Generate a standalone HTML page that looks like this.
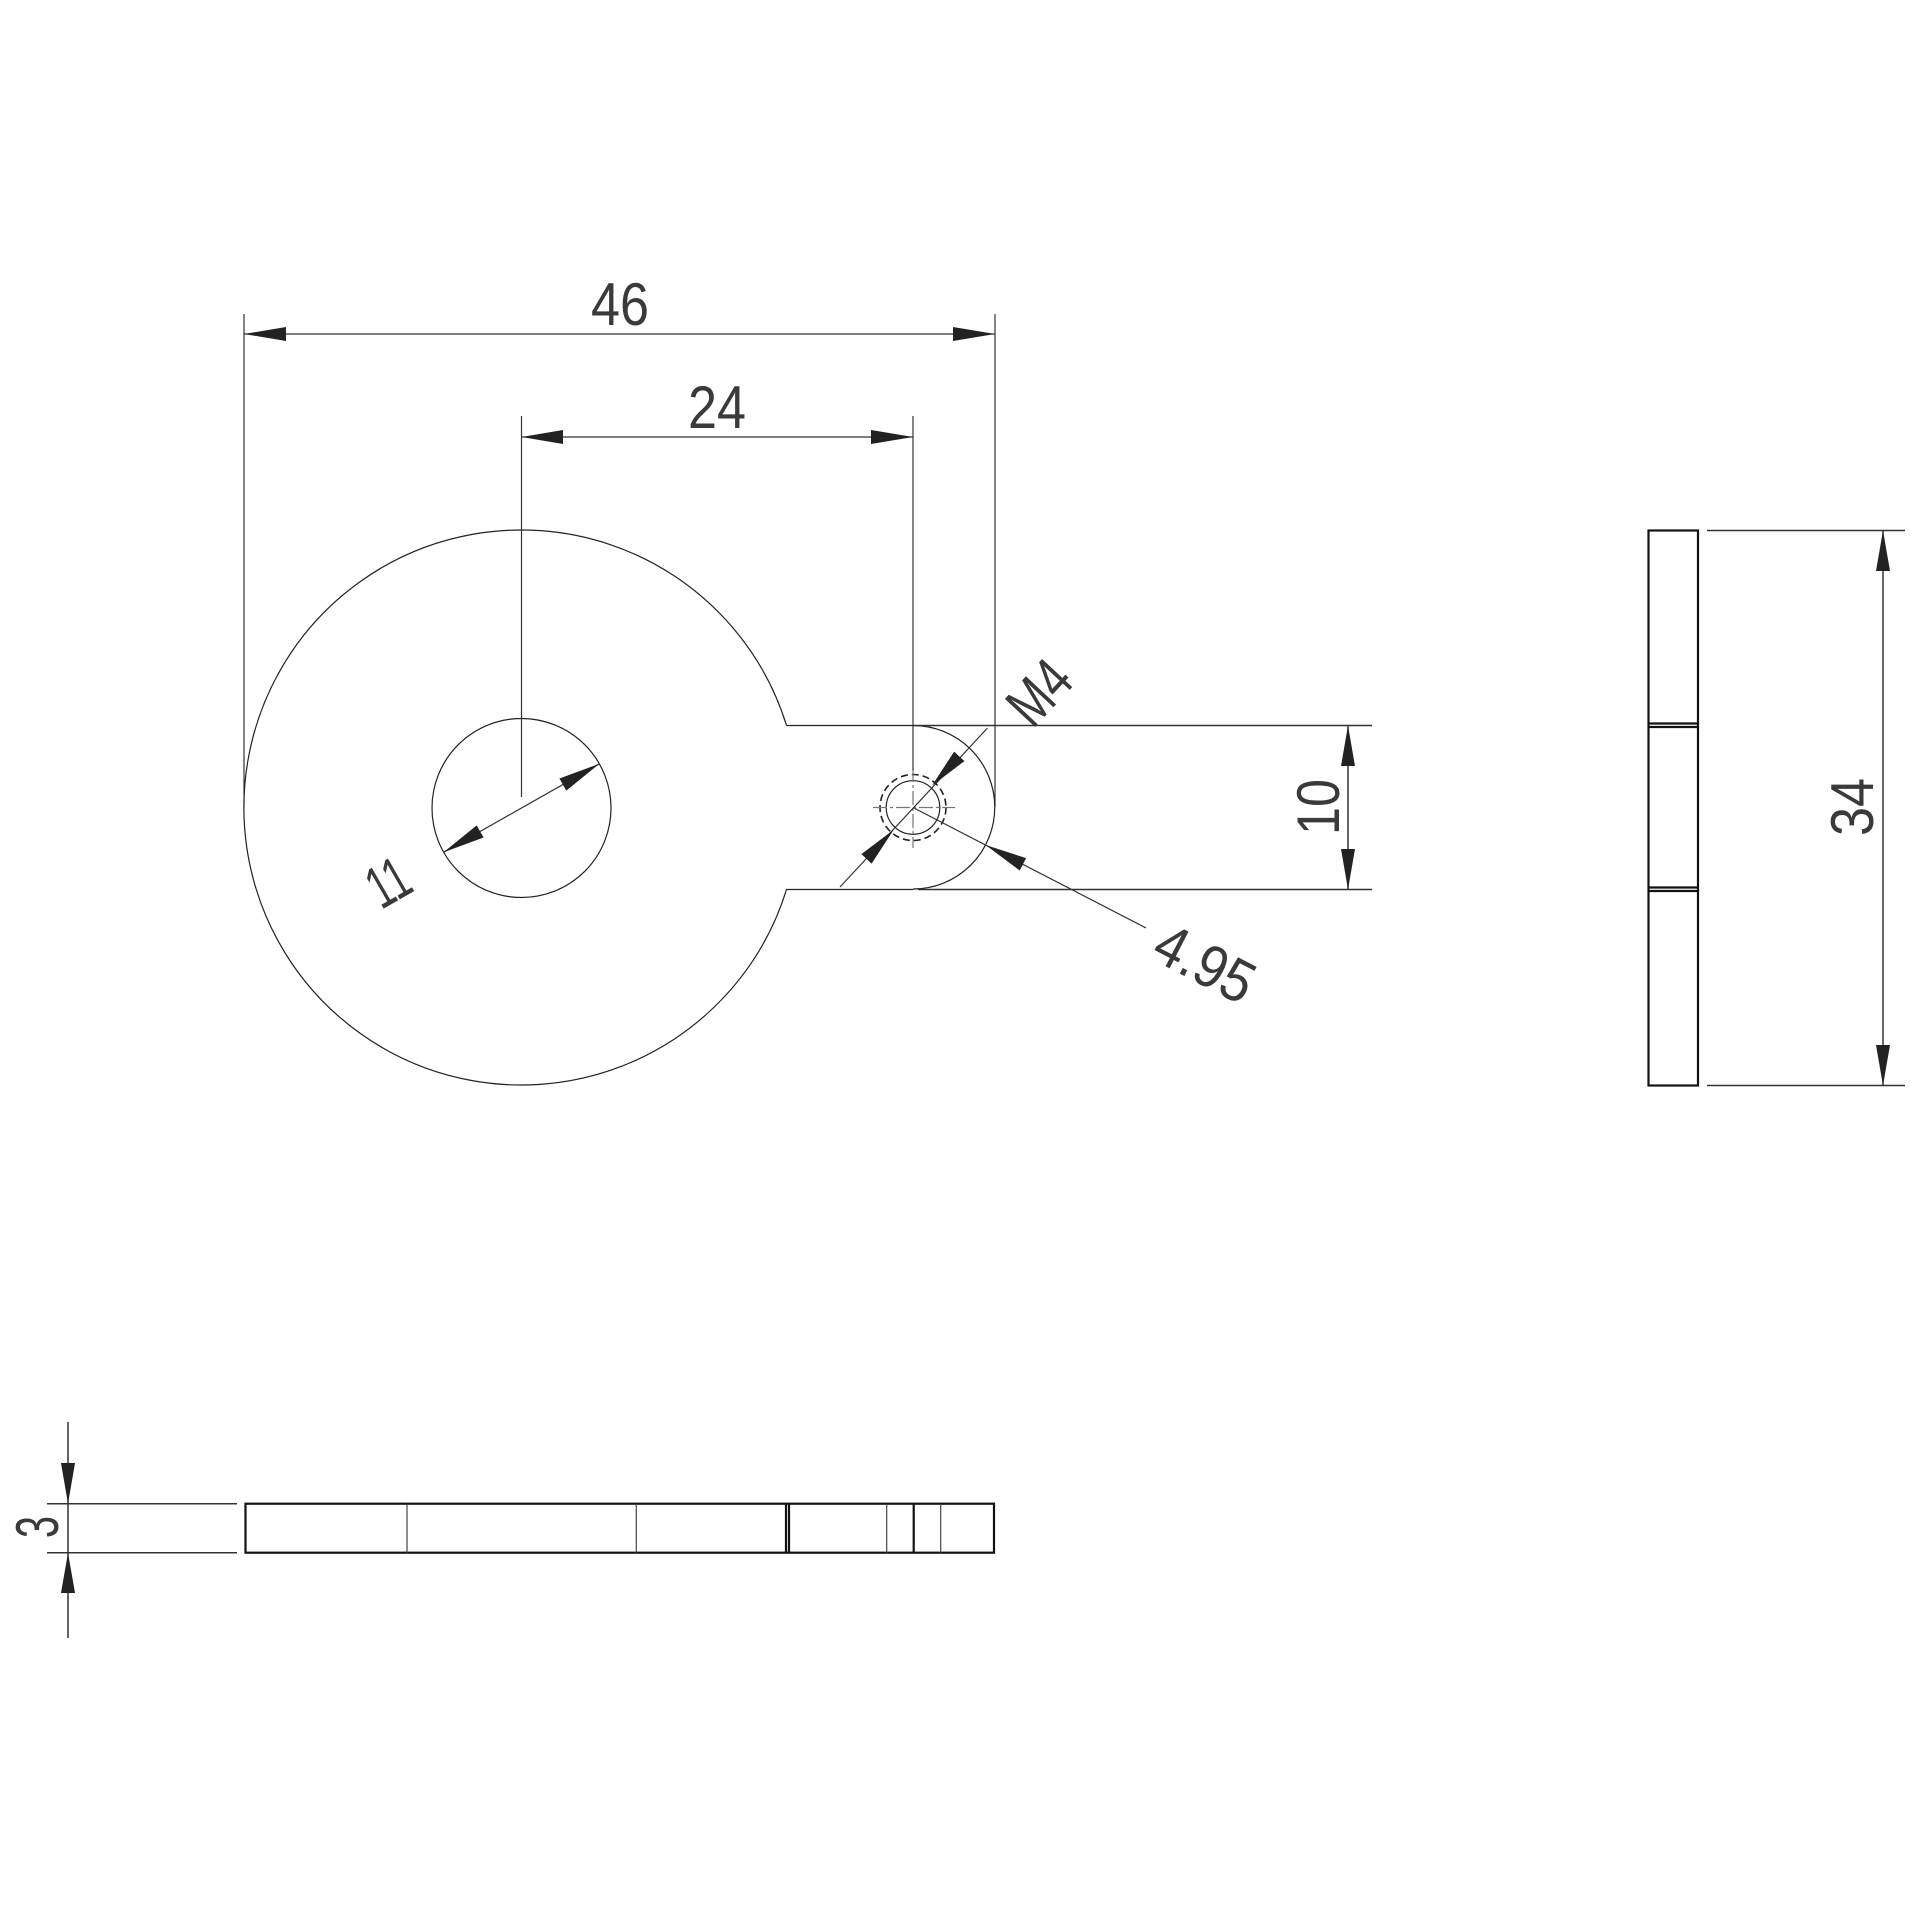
<!DOCTYPE html>
<html><head><meta charset="utf-8"><style>
html,body{margin:0;padding:0;background:#fff}
svg{display:block}
text{font-family:"Liberation Sans",sans-serif;fill:#3a3a3a}
</style></head><body>
<svg width="1920" height="1920" viewBox="0 0 1920 1920" xmlns="http://www.w3.org/2000/svg">
<g fill="none" stroke="#222" stroke-width="1.2">
  <!-- main outline -->
  <path d="M786.5,725.5 A277.5,277.5 0 1 0 786.5,889.5 L913,889.5"/>
  <path d="M786.5,725.5 L913,725.5"/>
  <path d="M913,725.5 A81.6,81.6 0 0 1 913,889"/>
  <circle cx="521.5" cy="808" r="89.5"/>
  <!-- M4 hole -->
  <circle cx="913" cy="807.5" r="26.8"/>
  <circle cx="913" cy="807.5" r="33" stroke-dasharray="7,4" stroke-width="1.6"/>
  <line x1="873" y1="807.5" x2="955" y2="807.5" stroke="#777" stroke-dasharray="14,3,3,3"/>
  <line x1="913" y1="768" x2="913" y2="848" stroke="#777" stroke-dasharray="14,3,3,3"/>
</g>
<g fill="none" stroke="#333" stroke-width="1.2">
  <!-- 46 -->
  <line x1="244" y1="314" x2="244" y2="808"/>
  <line x1="995" y1="314" x2="995" y2="807"/>
  <line x1="244" y1="334" x2="995" y2="334"/>
  <!-- 24 -->
  <line x1="521.5" y1="416" x2="521.5" y2="797"/>
  <line x1="913" y1="416" x2="913" y2="770"/>
  <line x1="521.5" y1="437" x2="913" y2="437"/>
  <!-- 11 -->
  <line x1="443.6" y1="852.2" x2="599.4" y2="763.8"/>
  <!-- 10 -->
  <line x1="913" y1="725.5" x2="1372" y2="725.5" stroke-width="1.5"/>
  <line x1="918" y1="889.5" x2="1372" y2="889.5" stroke-width="1.5"/>
  <line x1="1348" y1="725.5" x2="1348" y2="889.5" stroke-width="1.5"/>
  <!-- M4 leader -->
  <line x1="840" y1="887" x2="987.5" y2="728"/>
  <!-- 4.95 leader -->
  <line x1="913" y1="807.5" x2="1146" y2="928"/>
  <!-- 34 -->
  <line x1="1707" y1="530.5" x2="1905" y2="530.5" stroke-width="1.5"/>
  <line x1="1707" y1="1085.5" x2="1905" y2="1085.5" stroke-width="1.5"/>
  <line x1="1883" y1="530.5" x2="1883" y2="1085.5" stroke-width="1.5"/>
  <!-- 3 -->
  <line x1="47" y1="1503.7" x2="237" y2="1503.7" stroke-width="1.5"/>
  <line x1="47" y1="1552.7" x2="237" y2="1552.7" stroke-width="1.5"/>
  <line x1="68" y1="1422" x2="68" y2="1638" stroke-width="1.5"/>
</g>
<!-- side view -->
<g fill="none" stroke="#111" stroke-width="2.2">
  <rect x="1648.5" y="530.5" width="49.5" height="555"/>
  <line x1="1648.5" y1="723.5" x2="1698" y2="723.5"/>
  <line x1="1648.5" y1="727" x2="1698" y2="727"/>
  <line x1="1648.5" y1="887.5" x2="1698" y2="887.5"/>
  <line x1="1648.5" y1="891" x2="1698" y2="891"/>
</g>
<!-- bottom view -->
<g fill="none" stroke="#111" stroke-width="2.2">
  <rect x="245.5" y="1503.7" width="748.5" height="49"/>
  <line x1="786" y1="1503.7" x2="786" y2="1552.7"/>
  <line x1="789" y1="1503.7" x2="789" y2="1552.7"/>
  <line x1="913.7" y1="1503.7" x2="913.7" y2="1552.7"/>
</g>
<g stroke="#444" stroke-width="1.2">
  <line x1="407" y1="1503.7" x2="407" y2="1552.7"/>
  <line x1="636.3" y1="1503.7" x2="636.3" y2="1552.7"/>
  <line x1="886.7" y1="1503.7" x2="886.7" y2="1552.7"/>
  <line x1="940.7" y1="1503.7" x2="940.7" y2="1552.7"/>
</g>
<!-- arrowheads -->
<g fill="#222">
  <polygon points="244,334 286,327 286,341"/>
  <polygon points="995,334 953,327 953,341"/>
  <polygon points="521.5,437 563,430 563,444"/>
  <polygon points="913,437 871,430 871,444"/>
  <!-- 11 arrows -->
  <g transform="translate(443.6,852.2) rotate(-29.6)"><polygon points="0,0 42,-7 42,7"/></g>
  <g transform="translate(599.4,763.8) rotate(150.4)"><polygon points="0,0 42,-7 42,7"/></g>
  <!-- 10 -->
  <polygon points="1348,725.5 1341,766 1355,766"/>
  <polygon points="1348,889.5 1341,849 1355,849"/>
  <!-- M4 arrows -->
  <g transform="translate(932,785.6) rotate(-47)"><polygon points="0,0 40,-7 40,7"/></g>
  <g transform="translate(893.8,829.6) rotate(133)"><polygon points="0,0 40,-7 40,7"/></g>
  <!-- 4.95 -->
  <g transform="translate(985.6,845) rotate(27.4)"><polygon points="0,0 42,-7 42,7"/></g>
  <!-- 34 -->
  <polygon points="1883,530.5 1876,571 1890,571"/>
  <polygon points="1883,1085.5 1876,1045 1890,1045"/>
  <!-- 3 -->
  <polygon points="68,1503.7 61,1463 75,1463"/>
  <polygon points="68,1552.7 61,1593 75,1593"/>
</g>
<!-- labels -->
<text x="620" y="325" font-size="60" text-anchor="middle" textLength="58" lengthAdjust="spacingAndGlyphs">46</text>
<text x="717" y="428" font-size="60" text-anchor="middle" textLength="58" lengthAdjust="spacingAndGlyphs">24</text>
<text transform="translate(388,882) rotate(-30)" x="0" y="21" font-size="60" text-anchor="middle" textLength="40" lengthAdjust="spacingAndGlyphs">11</text>
<text transform="translate(1318,807) rotate(-90)" x="0" y="21" font-size="60" text-anchor="middle" textLength="56" lengthAdjust="spacingAndGlyphs">10</text>
<text transform="translate(1039,692) rotate(-47)" x="0" y="21" font-size="60" text-anchor="middle" textLength="64" lengthAdjust="spacingAndGlyphs">M4</text>
<text transform="translate(1205,963) rotate(27.4)" x="0" y="21" font-size="60" text-anchor="middle" textLength="104" lengthAdjust="spacingAndGlyphs">4.95</text>
<text transform="translate(1852,807) rotate(-90)" x="0" y="21" font-size="60" text-anchor="middle" textLength="58" lengthAdjust="spacingAndGlyphs">34</text>
<text transform="translate(37,1527) rotate(-90)" x="0" y="21" font-size="60" text-anchor="middle" textLength="22" lengthAdjust="spacingAndGlyphs">3</text>
</svg>
</body></html>
